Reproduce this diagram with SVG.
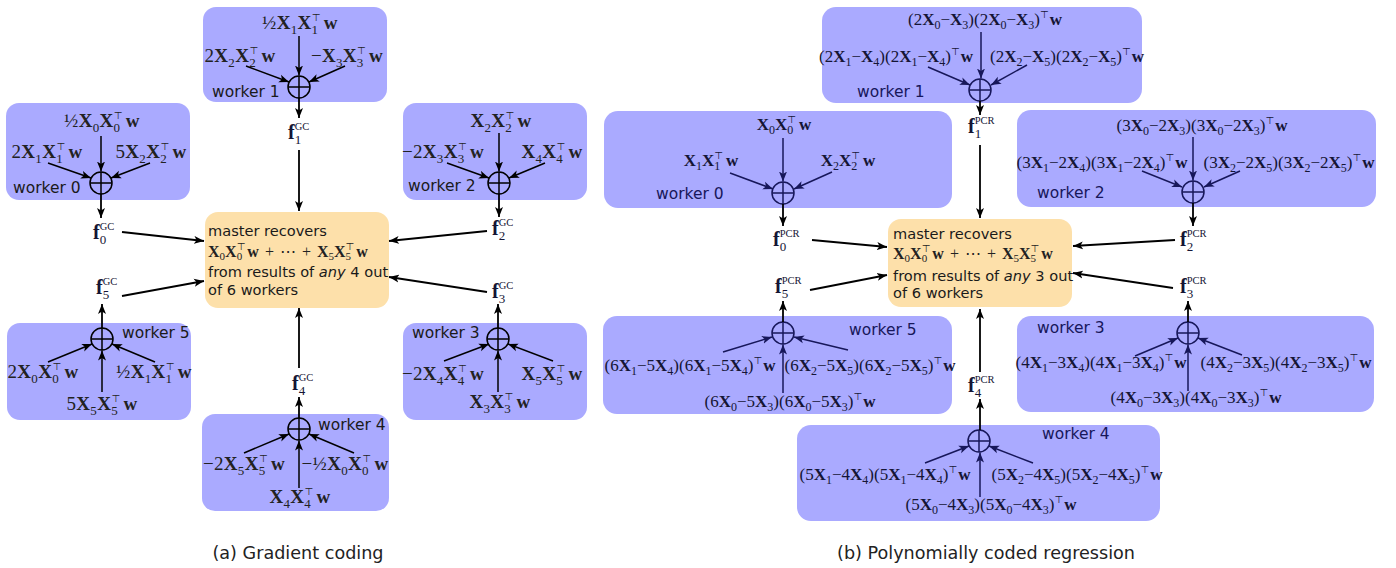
<svg xmlns="http://www.w3.org/2000/svg" width="1396" height="568" viewBox="0 0 1396 568">
<style>
.box{fill:#aaaaff}
.mbox{fill:#fde0aa}
.lab{font-family:"DejaVu Sans",sans-serif;font-size:15.5px;fill:#1a1a1a}
.labr{font-family:"DejaVu Sans",sans-serif;font-size:15.5px;fill:#17175a}
.mt{font-family:"DejaVu Sans",sans-serif;font-size:14.6px;fill:#1a1a1a}
.cap{font-family:"DejaVu Sans",sans-serif;font-size:17.6px;fill:#222}
.m{font-family:"Liberation Serif",serif;font-size:19px;fill:#222;letter-spacing:0.3px}
.mr{font-family:"Liberation Serif",serif;font-size:17px;fill:#151535}
.mm{font-family:"Liberation Serif",serif;font-size:16px;fill:#222}
.b{font-weight:bold}
.s{font-size:13px}
.r{font-size:12px}
.u{font-size:11px}
.t{font-family:"DejaVu Sans",sans-serif;font-size:10px}
.fs{font-family:"Liberation Serif",serif;font-size:10.5px}
.ed{stroke:#000;stroke-width:1.8;fill:none;marker-end:url(#ah)}
.ei{stroke:#000;stroke-width:1.5;fill:none;marker-end:url(#ah)}
.er{stroke:#17175a;stroke-width:1.5;fill:none;marker-end:url(#ahr)}
.op{fill:none;stroke:#000;stroke-width:1.5}
.opr{fill:none;stroke:#17175a;stroke-width:1.5}
</style>
<defs>
<marker id="ah" markerUnits="userSpaceOnUse" markerWidth="11" markerHeight="9" refX="10" refY="4.5" orient="auto"><path d="M0,0.5 L10,4.5 L0,8.5 L2.5,4.5 z" fill="#000"/></marker>
<marker id="ahr" markerUnits="userSpaceOnUse" markerWidth="11" markerHeight="9" refX="10" refY="4.5" orient="auto"><path d="M0,0.5 L10,4.5 L0,8.5 L2.5,4.5 z" fill="#17175a"/></marker>
<g id="oplus"><circle r="11"/><path d="M-11,0H11M0,-11V11"/></g>
</defs>
<rect width="1396" height="568" fill="#fff"/>

<!-- ===== (a) Gradient coding ===== -->
<g id="gc-worker0">
<rect class="box" x="6" y="103" width="184" height="97" rx="13"/>
<text class="m" x="102" y="127" text-anchor="middle">½<tspan class="b">X</tspan><tspan class="s" dy="5">0</tspan><tspan class="b" dy="-5">X</tspan><tspan class="s" dy="5">0</tspan><tspan class="t" dx="-6.5" dy="-13">⊤</tspan><tspan class="b" dx="3" dy="8">w</tspan></text>
<text class="m" x="47" y="158" text-anchor="middle">2<tspan class="b">X</tspan><tspan class="s" dy="5">1</tspan><tspan class="b" dy="-5">X</tspan><tspan class="s" dy="5">1</tspan><tspan class="t" dx="-6.5" dy="-13">⊤</tspan><tspan class="b" dx="3" dy="8">w</tspan></text>
<text class="m" x="151" y="158" text-anchor="middle">5<tspan class="b">X</tspan><tspan class="s" dy="5">2</tspan><tspan class="b" dy="-5">X</tspan><tspan class="s" dy="5">2</tspan><tspan class="t" dx="-6.5" dy="-13">⊤</tspan><tspan class="b" dx="3" dy="8">w</tspan></text>
<text class="lab" x="13" y="193">worker 0</text>
<use href="#oplus" class="op" x="101" y="183"/>
</g>
<g id="gc-worker1">
<rect class="box" x="203" y="7" width="184" height="95" rx="13"/>
<text class="m" x="300" y="29" text-anchor="middle">½<tspan class="b">X</tspan><tspan class="s" dy="5">1</tspan><tspan class="b" dy="-5">X</tspan><tspan class="s" dy="5">1</tspan><tspan class="t" dx="-6.5" dy="-13">⊤</tspan><tspan class="b" dx="3" dy="8">w</tspan></text>
<text class="m" x="240" y="62" text-anchor="middle">2<tspan class="b">X</tspan><tspan class="s" dy="5">2</tspan><tspan class="b" dy="-5">X</tspan><tspan class="s" dy="5">2</tspan><tspan class="t" dx="-6.5" dy="-13">⊤</tspan><tspan class="b" dx="3" dy="8">w</tspan></text>
<text class="m" x="347" y="62" text-anchor="middle">−<tspan class="b">X</tspan><tspan class="s" dy="5">3</tspan><tspan class="b" dy="-5">X</tspan><tspan class="s" dy="5">3</tspan><tspan class="t" dx="-6.5" dy="-13">⊤</tspan><tspan class="b" dx="3" dy="8">w</tspan></text>
<text class="lab" x="212" y="97">worker 1</text>
<use href="#oplus" class="op" x="299" y="87"/>
</g>
<g id="gc-worker2">
<rect class="box" x="403" y="103" width="184" height="97" rx="13"/>
<text class="m" x="501" y="127" text-anchor="middle"><tspan class="b">X</tspan><tspan class="s" dy="5">2</tspan><tspan class="b" dy="-5">X</tspan><tspan class="s" dy="5">2</tspan><tspan class="t" dx="-6.5" dy="-13">⊤</tspan><tspan class="b" dx="3" dy="8">w</tspan></text>
<text class="m" x="443" y="158" text-anchor="middle">−2<tspan class="b">X</tspan><tspan class="s" dy="5">3</tspan><tspan class="b" dy="-5">X</tspan><tspan class="s" dy="5">3</tspan><tspan class="t" dx="-6.5" dy="-13">⊤</tspan><tspan class="b" dx="3" dy="8">w</tspan></text>
<text class="m" x="552" y="158" text-anchor="middle"><tspan class="b">X</tspan><tspan class="s" dy="5">4</tspan><tspan class="b" dy="-5">X</tspan><tspan class="s" dy="5">4</tspan><tspan class="t" dx="-6.5" dy="-13">⊤</tspan><tspan class="b" dx="3" dy="8">w</tspan></text>
<text class="lab" x="408" y="191">worker 2</text>
<use href="#oplus" class="op" x="499" y="183"/>
</g>
<g id="gc-worker3">
<rect class="box" x="403" y="323" width="184" height="97" rx="13"/>
<text class="m" x="443" y="380" text-anchor="middle">−2<tspan class="b">X</tspan><tspan class="s" dy="5">4</tspan><tspan class="b" dy="-5">X</tspan><tspan class="s" dy="5">4</tspan><tspan class="t" dx="-6.5" dy="-13">⊤</tspan><tspan class="b" dx="3" dy="8">w</tspan></text>
<text class="m" x="552" y="380" text-anchor="middle"><tspan class="b">X</tspan><tspan class="s" dy="5">5</tspan><tspan class="b" dy="-5">X</tspan><tspan class="s" dy="5">5</tspan><tspan class="t" dx="-6.5" dy="-13">⊤</tspan><tspan class="b" dx="3" dy="8">w</tspan></text>
<text class="m" x="500" y="408" text-anchor="middle"><tspan class="b">X</tspan><tspan class="s" dy="5">3</tspan><tspan class="b" dy="-5">X</tspan><tspan class="s" dy="5">3</tspan><tspan class="t" dx="-6.5" dy="-13">⊤</tspan><tspan class="b" dx="3" dy="8">w</tspan></text>
<text class="lab" x="412" y="338">worker 3</text>
<use href="#oplus" class="op" x="498" y="339"/>
</g>
<g id="gc-worker4">
<rect class="box" x="202" y="414" width="187" height="97" rx="13"/>
<text class="m" x="244" y="470" text-anchor="middle">−2<tspan class="b">X</tspan><tspan class="s" dy="5">5</tspan><tspan class="b" dy="-5">X</tspan><tspan class="s" dy="5">5</tspan><tspan class="t" dx="-6.5" dy="-13">⊤</tspan><tspan class="b" dx="3" dy="8">w</tspan></text>
<text class="m" x="345" y="470" text-anchor="middle">−½<tspan class="b">X</tspan><tspan class="s" dy="5">0</tspan><tspan class="b" dy="-5">X</tspan><tspan class="s" dy="5">0</tspan><tspan class="t" dx="-6.5" dy="-13">⊤</tspan><tspan class="b" dx="3" dy="8">w</tspan></text>
<text class="m" x="300" y="503" text-anchor="middle"><tspan class="b">X</tspan><tspan class="s" dy="5">4</tspan><tspan class="b" dy="-5">X</tspan><tspan class="s" dy="5">4</tspan><tspan class="t" dx="-6.5" dy="-13">⊤</tspan><tspan class="b" dx="3" dy="8">w</tspan></text>
<text class="lab" x="318" y="430">worker 4</text>
<use href="#oplus" class="op" x="299" y="429"/>
</g>
<g id="gc-worker5">
<rect class="box" x="7" y="323" width="184" height="97" rx="13"/>
<text class="m" x="43" y="378" text-anchor="middle">2<tspan class="b">X</tspan><tspan class="s" dy="5">0</tspan><tspan class="b" dy="-5">X</tspan><tspan class="s" dy="5">0</tspan><tspan class="t" dx="-6.5" dy="-13">⊤</tspan><tspan class="b" dx="3" dy="8">w</tspan></text>
<text class="m" x="154" y="378" text-anchor="middle">½<tspan class="b">X</tspan><tspan class="s" dy="5">1</tspan><tspan class="b" dy="-5">X</tspan><tspan class="s" dy="5">1</tspan><tspan class="t" dx="-6.5" dy="-13">⊤</tspan><tspan class="b" dx="3" dy="8">w</tspan></text>
<text class="m" x="102" y="410" text-anchor="middle">5<tspan class="b">X</tspan><tspan class="s" dy="5">5</tspan><tspan class="b" dy="-5">X</tspan><tspan class="s" dy="5">5</tspan><tspan class="t" dx="-6.5" dy="-13">⊤</tspan><tspan class="b" dx="3" dy="8">w</tspan></text>
<text class="lab" x="122" y="338">worker 5</text>
<use href="#oplus" class="op" x="102" y="339"/>
</g>
<g id="gc-master">
<rect class="mbox" x="205" y="212" width="184" height="96" rx="13"/>
<text class="mt" x="208" y="236">master recovers</text>
<text class="mm" x="208" y="257" word-spacing="2"><tspan class="b">X</tspan><tspan class="u" dy="3">0</tspan><tspan class="b" dy="-3">X</tspan><tspan class="u" dy="3">0</tspan><tspan class="t" font-size="9" dx="-5.5" dy="-10">⊤</tspan><tspan class="b" dx="2" dy="7">w</tspan> + <tspan font-family="DejaVu Sans">⋯</tspan> + <tspan class="b">X</tspan><tspan class="u" dy="3">5</tspan><tspan class="b" dy="-3">X</tspan><tspan class="u" dy="3">5</tspan><tspan class="t" font-size="9" dx="-5.5" dy="-10">⊤</tspan><tspan class="b" dx="2" dy="7">w</tspan></text>
<text class="mt" x="208" y="277">from results of <tspan font-style="italic">any</tspan> 4 out</text>
<text class="mt" x="208" y="295">of 6 workers</text>
</g>
<g id="gc-flabels" class="mr">
<text x="93" y="239" font-size="20"><tspan class="b">f</tspan><tspan class="s" dy="5">0</tspan><tspan class="fs" dx="-6.5" dy="-14">GC</tspan></text>
<text x="288" y="139" font-size="20"><tspan class="b">f</tspan><tspan class="s" dy="5">1</tspan><tspan class="fs" dx="-6.5" dy="-14">GC</tspan></text>
<text x="492" y="235" font-size="20"><tspan class="b">f</tspan><tspan class="s" dy="5">2</tspan><tspan class="fs" dx="-6.5" dy="-14">GC</tspan></text>
<text x="492" y="298" font-size="20"><tspan class="b">f</tspan><tspan class="s" dy="5">3</tspan><tspan class="fs" dx="-6.5" dy="-14">GC</tspan></text>
<text x="292" y="390" font-size="20"><tspan class="b">f</tspan><tspan class="s" dy="5">4</tspan><tspan class="fs" dx="-6.5" dy="-14">GC</tspan></text>
<text x="96" y="294" font-size="20"><tspan class="b">f</tspan><tspan class="s" dy="5">5</tspan><tspan class="fs" dx="-6.5" dy="-14">GC</tspan></text>
</g>
<g id="gc-connectors">
<path class="ei" d="M101,136V171.5"/><path class="ei" d="M48,163L91,178"/><path class="ei" d="M150,163L111,178"/>
<path class="ed" d="M101,194V218"/>
<path class="ed" d="M122,232L204,241"/>
<path class="ei" d="M299,36V75.5"/><path class="ei" d="M246,66L289,82"/><path class="ei" d="M345,66L309,82"/>
<path class="ed" d="M299,98V118"/>
<path class="ed" d="M299,150V211"/>
<path class="ei" d="M499,133V171.5"/><path class="ei" d="M447,163L489,178"/><path class="ei" d="M545,163L509,178"/>
<path class="ed" d="M499,194V217"/>
<path class="ed" d="M487,231L389,241"/>
<path class="ei" d="M444,361L489,344"/><path class="ei" d="M553,361L508,344"/><path class="ei" d="M498,392V350.5"/>
<path class="ed" d="M498,328V304"/>
<path class="ed" d="M487,292L389,277"/>
<path class="ei" d="M244,453L289,434"/><path class="ei" d="M354,453L309,434"/><path class="ei" d="M299,488V440.5"/>
<path class="ed" d="M299,418V397"/>
<path class="ed" d="M299,368V308"/>
<path class="ei" d="M48,362L92,344"/><path class="ei" d="M155,362L112,344"/><path class="ei" d="M102,392V350.5"/>
<path class="ed" d="M102,328V304"/>
<path class="ed" d="M122,296L204,281"/>
</g>
<text class="cap" x="298" y="559" text-anchor="middle">(a) Gradient coding</text>

<!-- ===== (b) Polynomially coded regression ===== -->
<g id="pcr-worker0">
<rect class="box" x="604" y="111" width="348" height="97" rx="14"/>
<text class="mr" x="784" y="130" text-anchor="middle"><tspan class="b">X</tspan><tspan class="r" dy="4">0</tspan><tspan class="b" dy="-4">X</tspan><tspan class="r" dy="4">0</tspan><tspan class="t" dx="-6" dy="-11">⊤</tspan><tspan class="b" dx="3" dy="7">w</tspan></text>
<text class="mr" x="711" y="166" text-anchor="middle"><tspan class="b">X</tspan><tspan class="r" dy="4">1</tspan><tspan class="b" dy="-4">X</tspan><tspan class="r" dy="4">1</tspan><tspan class="t" dx="-6" dy="-11">⊤</tspan><tspan class="b" dx="3" dy="7">w</tspan></text>
<text class="mr" x="848" y="166" text-anchor="middle"><tspan class="b">X</tspan><tspan class="r" dy="4">2</tspan><tspan class="b" dy="-4">X</tspan><tspan class="r" dy="4">2</tspan><tspan class="t" dx="-6" dy="-11">⊤</tspan><tspan class="b" dx="3" dy="7">w</tspan></text>
<text class="labr" x="656" y="199">worker 0</text>
<use href="#oplus" class="opr" x="783" y="193"/>
</g>
<g id="pcr-worker1">
<rect class="box" x="822" y="7" width="320" height="96" rx="14"/>
<text class="mr" x="985" y="25" text-anchor="middle">(2<tspan class="b">X</tspan><tspan class="r" dy="4">0</tspan><tspan dy="-4">−</tspan><tspan class="b">X</tspan><tspan class="r" dy="4">3</tspan><tspan dy="-4">)(2</tspan><tspan class="b">X</tspan><tspan class="r" dy="4">0</tspan><tspan dy="-4">−</tspan><tspan class="b">X</tspan><tspan class="r" dy="4">3</tspan><tspan dy="-4">)</tspan><tspan class="t" dy="-7">⊤</tspan><tspan class="b" dx="1" dy="7">w</tspan></text>
<text class="mr" x="896" y="62" text-anchor="middle">(2<tspan class="b">X</tspan><tspan class="r" dy="4">1</tspan><tspan dy="-4">−</tspan><tspan class="b">X</tspan><tspan class="r" dy="4">4</tspan><tspan dy="-4">)(2</tspan><tspan class="b">X</tspan><tspan class="r" dy="4">1</tspan><tspan dy="-4">−</tspan><tspan class="b">X</tspan><tspan class="r" dy="4">4</tspan><tspan dy="-4">)</tspan><tspan class="t" dy="-7">⊤</tspan><tspan class="b" dx="1" dy="7">w</tspan></text>
<text class="mr" x="1067" y="62" text-anchor="middle">(2<tspan class="b">X</tspan><tspan class="r" dy="4">2</tspan><tspan dy="-4">−</tspan><tspan class="b">X</tspan><tspan class="r" dy="4">5</tspan><tspan dy="-4">)(2</tspan><tspan class="b">X</tspan><tspan class="r" dy="4">2</tspan><tspan dy="-4">−</tspan><tspan class="b">X</tspan><tspan class="r" dy="4">5</tspan><tspan dy="-4">)</tspan><tspan class="t" dy="-7">⊤</tspan><tspan class="b" dx="1" dy="7">w</tspan></text>
<text class="labr" x="857" y="97">worker 1</text>
<use href="#oplus" class="opr" x="980" y="90"/>
</g>
<g id="pcr-worker2">
<rect class="box" x="1017" y="110" width="359" height="97" rx="14"/>
<text class="mr" x="1202" y="131" text-anchor="middle">(3<tspan class="b">X</tspan><tspan class="r" dy="4">0</tspan><tspan dy="-4">−2</tspan><tspan class="b">X</tspan><tspan class="r" dy="4">3</tspan><tspan dy="-4">)(3</tspan><tspan class="b">X</tspan><tspan class="r" dy="4">0</tspan><tspan dy="-4">−2</tspan><tspan class="b">X</tspan><tspan class="r" dy="4">3</tspan><tspan dy="-4">)</tspan><tspan class="t" dy="-7">⊤</tspan><tspan class="b" dx="1" dy="7">w</tspan></text>
<text class="mr" x="1102" y="168" text-anchor="middle">(3<tspan class="b">X</tspan><tspan class="r" dy="4">1</tspan><tspan dy="-4">−2</tspan><tspan class="b">X</tspan><tspan class="r" dy="4">4</tspan><tspan dy="-4">)(3</tspan><tspan class="b">X</tspan><tspan class="r" dy="4">1</tspan><tspan dy="-4">−2</tspan><tspan class="b">X</tspan><tspan class="r" dy="4">4</tspan><tspan dy="-4">)</tspan><tspan class="t" dy="-7">⊤</tspan><tspan class="b" dx="1" dy="7">w</tspan></text>
<text class="mr" x="1289" y="168" text-anchor="middle">(3<tspan class="b">X</tspan><tspan class="r" dy="4">2</tspan><tspan dy="-4">−2</tspan><tspan class="b">X</tspan><tspan class="r" dy="4">5</tspan><tspan dy="-4">)(3</tspan><tspan class="b">X</tspan><tspan class="r" dy="4">2</tspan><tspan dy="-4">−2</tspan><tspan class="b">X</tspan><tspan class="r" dy="4">5</tspan><tspan dy="-4">)</tspan><tspan class="t" dy="-7">⊤</tspan><tspan class="b" dx="1" dy="7">w</tspan></text>
<text class="labr" x="1037" y="198">worker 2</text>
<use href="#oplus" class="opr" x="1193" y="192"/>
</g>
<g id="pcr-worker3">
<rect class="box" x="1017" y="316" width="357" height="96" rx="14"/>
<text class="mr" x="1101" y="368" text-anchor="middle">(4<tspan class="b">X</tspan><tspan class="r" dy="4">1</tspan><tspan dy="-4">−3</tspan><tspan class="b">X</tspan><tspan class="r" dy="4">4</tspan><tspan dy="-4">)(4</tspan><tspan class="b">X</tspan><tspan class="r" dy="4">1</tspan><tspan dy="-4">−3</tspan><tspan class="b">X</tspan><tspan class="r" dy="4">4</tspan><tspan dy="-4">)</tspan><tspan class="t" dy="-7">⊤</tspan><tspan class="b" dx="1" dy="7">w</tspan></text>
<text class="mr" x="1286" y="368" text-anchor="middle">(4<tspan class="b">X</tspan><tspan class="r" dy="4">2</tspan><tspan dy="-4">−3</tspan><tspan class="b">X</tspan><tspan class="r" dy="4">5</tspan><tspan dy="-4">)(4</tspan><tspan class="b">X</tspan><tspan class="r" dy="4">2</tspan><tspan dy="-4">−3</tspan><tspan class="b">X</tspan><tspan class="r" dy="4">5</tspan><tspan dy="-4">)</tspan><tspan class="t" dy="-7">⊤</tspan><tspan class="b" dx="1" dy="7">w</tspan></text>
<text class="mr" x="1196" y="403" text-anchor="middle">(4<tspan class="b">X</tspan><tspan class="r" dy="4">0</tspan><tspan dy="-4">−3</tspan><tspan class="b">X</tspan><tspan class="r" dy="4">3</tspan><tspan dy="-4">)(4</tspan><tspan class="b">X</tspan><tspan class="r" dy="4">0</tspan><tspan dy="-4">−3</tspan><tspan class="b">X</tspan><tspan class="r" dy="4">3</tspan><tspan dy="-4">)</tspan><tspan class="t" dy="-7">⊤</tspan><tspan class="b" dx="1" dy="7">w</tspan></text>
<text class="labr" x="1037" y="333">worker 3</text>
<use href="#oplus" class="opr" x="1188" y="333"/>
</g>
<g id="pcr-worker4">
<rect class="box" x="797" y="425" width="363" height="96" rx="14"/>
<text class="mr" x="885" y="480" text-anchor="middle">(5<tspan class="b">X</tspan><tspan class="r" dy="4">1</tspan><tspan dy="-4">−4</tspan><tspan class="b">X</tspan><tspan class="r" dy="4">4</tspan><tspan dy="-4">)(5</tspan><tspan class="b">X</tspan><tspan class="r" dy="4">1</tspan><tspan dy="-4">−4</tspan><tspan class="b">X</tspan><tspan class="r" dy="4">4</tspan><tspan dy="-4">)</tspan><tspan class="t" dy="-7">⊤</tspan><tspan class="b" dx="1" dy="7">w</tspan></text>
<text class="mr" x="1077" y="480" text-anchor="middle">(5<tspan class="b">X</tspan><tspan class="r" dy="4">2</tspan><tspan dy="-4">−4</tspan><tspan class="b">X</tspan><tspan class="r" dy="4">5</tspan><tspan dy="-4">)(5</tspan><tspan class="b">X</tspan><tspan class="r" dy="4">2</tspan><tspan dy="-4">−4</tspan><tspan class="b">X</tspan><tspan class="r" dy="4">5</tspan><tspan dy="-4">)</tspan><tspan class="t" dy="-7">⊤</tspan><tspan class="b" dx="1" dy="7">w</tspan></text>
<text class="mr" x="991" y="510" text-anchor="middle">(5<tspan class="b">X</tspan><tspan class="r" dy="4">0</tspan><tspan dy="-4">−4</tspan><tspan class="b">X</tspan><tspan class="r" dy="4">3</tspan><tspan dy="-4">)(5</tspan><tspan class="b">X</tspan><tspan class="r" dy="4">0</tspan><tspan dy="-4">−4</tspan><tspan class="b">X</tspan><tspan class="r" dy="4">3</tspan><tspan dy="-4">)</tspan><tspan class="t" dy="-7">⊤</tspan><tspan class="b" dx="1" dy="7">w</tspan></text>
<text class="labr" x="1042" y="439">worker 4</text>
<use href="#oplus" class="opr" x="979" y="441"/>
</g>
<g id="pcr-worker5">
<rect class="box" x="603" y="316" width="349" height="98" rx="14"/>
<text class="mr" x="690" y="371" text-anchor="middle">(6<tspan class="b">X</tspan><tspan class="r" dy="4">1</tspan><tspan dy="-4">−5</tspan><tspan class="b">X</tspan><tspan class="r" dy="4">4</tspan><tspan dy="-4">)(6</tspan><tspan class="b">X</tspan><tspan class="r" dy="4">1</tspan><tspan dy="-4">−5</tspan><tspan class="b">X</tspan><tspan class="r" dy="4">4</tspan><tspan dy="-4">)</tspan><tspan class="t" dy="-7">⊤</tspan><tspan class="b" dx="1" dy="7">w</tspan></text>
<text class="mr" x="870" y="371" text-anchor="middle">(6<tspan class="b">X</tspan><tspan class="r" dy="4">2</tspan><tspan dy="-4">−5</tspan><tspan class="b">X</tspan><tspan class="r" dy="4">5</tspan><tspan dy="-4">)(6</tspan><tspan class="b">X</tspan><tspan class="r" dy="4">2</tspan><tspan dy="-4">−5</tspan><tspan class="b">X</tspan><tspan class="r" dy="4">5</tspan><tspan dy="-4">)</tspan><tspan class="t" dy="-7">⊤</tspan><tspan class="b" dx="1" dy="7">w</tspan></text>
<text class="mr" x="790" y="407" text-anchor="middle">(6<tspan class="b">X</tspan><tspan class="r" dy="4">0</tspan><tspan dy="-4">−5</tspan><tspan class="b">X</tspan><tspan class="r" dy="4">3</tspan><tspan dy="-4">)(6</tspan><tspan class="b">X</tspan><tspan class="r" dy="4">0</tspan><tspan dy="-4">−5</tspan><tspan class="b">X</tspan><tspan class="r" dy="4">3</tspan><tspan dy="-4">)</tspan><tspan class="t" dy="-7">⊤</tspan><tspan class="b" dx="1" dy="7">w</tspan></text>
<text class="labr" x="849" y="335">worker 5</text>
<use href="#oplus" class="opr" x="783" y="333"/>
</g>
<g id="pcr-master">
<rect class="mbox" x="888" y="219" width="184" height="88" rx="13"/>
<text class="mt" x="893" y="239">master recovers</text>
<text class="mm" x="893" y="259" word-spacing="2"><tspan class="b">X</tspan><tspan class="u" dy="3">0</tspan><tspan class="b" dy="-3">X</tspan><tspan class="u" dy="3">0</tspan><tspan class="t" font-size="9" dx="-5.5" dy="-10">⊤</tspan><tspan class="b" dx="2" dy="7">w</tspan> + <tspan font-family="DejaVu Sans">⋯</tspan> + <tspan class="b">X</tspan><tspan class="u" dy="3">5</tspan><tspan class="b" dy="-3">X</tspan><tspan class="u" dy="3">5</tspan><tspan class="t" font-size="9" dx="-5.5" dy="-10">⊤</tspan><tspan class="b" dx="2" dy="7">w</tspan></text>
<text class="mt" x="893" y="281">from results of <tspan font-style="italic">any</tspan> 3 out</text>
<text class="mt" x="893" y="298">of 6 workers</text>
</g>
<g id="pcr-flabels" class="mr">
<text x="773" y="246" font-size="20"><tspan class="b">f</tspan><tspan class="s" dy="5">0</tspan><tspan class="fs" dx="-6.5" dy="-14">PCR</tspan></text>
<text x="968" y="133" font-size="20"><tspan class="b">f</tspan><tspan class="s" dy="5">1</tspan><tspan class="fs" dx="-6.5" dy="-14">PCR</tspan></text>
<text x="1180" y="246" font-size="20"><tspan class="b">f</tspan><tspan class="s" dy="5">2</tspan><tspan class="fs" dx="-6.5" dy="-14">PCR</tspan></text>
<text x="1180" y="293" font-size="20"><tspan class="b">f</tspan><tspan class="s" dy="5">3</tspan><tspan class="fs" dx="-6.5" dy="-14">PCR</tspan></text>
<text x="968" y="392" font-size="20"><tspan class="b">f</tspan><tspan class="s" dy="5">4</tspan><tspan class="fs" dx="-6.5" dy="-14">PCR</tspan></text>
<text x="775" y="293" font-size="20"><tspan class="b">f</tspan><tspan class="s" dy="5">5</tspan><tspan class="fs" dx="-6.5" dy="-14">PCR</tspan></text>
</g>
<g id="pcr-connectors">
<path class="er" d="M783,138V181.5"/><path class="er" d="M730,173L773,189"/><path class="er" d="M832,172L794,189"/>
<path class="ed" d="M783,204V226"/>
<path class="ed" d="M812,240L887,247"/>
<path class="er" d="M981,32V78.5"/><path class="er" d="M928,67L970,85"/><path class="er" d="M1027,65L991,85"/>
<path class="ed" d="M980,101V115"/>
<path class="ed" d="M980,145V218"/>
<path class="er" d="M1193,137V180.5"/><path class="er" d="M1142,171L1182,187"/><path class="er" d="M1240,171L1204,187"/>
<path class="ed" d="M1193,203V226"/>
<path class="ed" d="M1175,240L1073,246"/>
<path class="er" d="M1135,356L1178,338"/><path class="er" d="M1242,355L1198,338"/><path class="er" d="M1188,391V344.5"/>
<path class="ed" d="M1188,322V301"/>
<path class="ed" d="M1173,288L1073,273"/>
<path class="er" d="M925,463L969,446"/><path class="er" d="M1033,463L989,446"/><path class="er" d="M980,497V452.5"/>
<path class="ed" d="M980,430V399"/>
<path class="ed" d="M980,372V309"/>
<path class="er" d="M723,352L772,337"/><path class="er" d="M848,350L794,337"/><path class="er" d="M783,393V344.5"/>
<path class="ed" d="M783,322V301"/>
<path class="ed" d="M810,290L887,275"/>
</g>
<text class="cap" x="986" y="559" text-anchor="middle">(b) Polynomially coded regression</text>
</svg>
